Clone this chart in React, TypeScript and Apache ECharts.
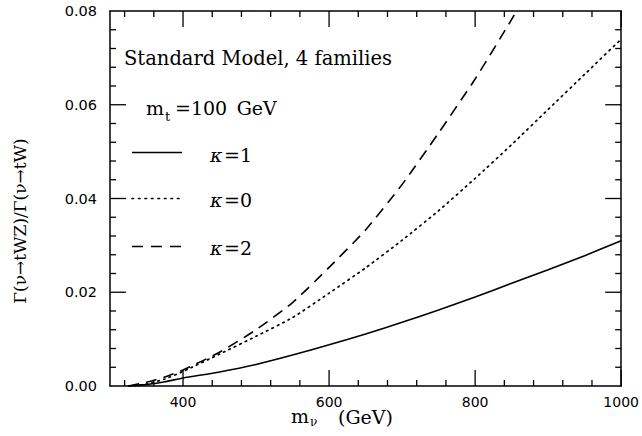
import React, { useEffect, useRef } from "react";
import * as echarts from "echarts";

// ---- data ----
const massPoints = [325, 350, 375, 400, 450, 500, 550, 600, 650, 700, 750, 800, 850, 900, 950, 1000];
const kappa1 = [0, 0.0003, 0.0009, 0.0017, 0.003, 0.0046, 0.0066, 0.0088, 0.0111, 0.0136, 0.0162, 0.019, 0.0219, 0.0248, 0.0278, 0.031];
const kappa0 = [0, 0.0004, 0.0015, 0.0031, 0.0068, 0.0106, 0.0146, 0.0198, 0.0252, 0.0311, 0.0374, 0.0443, 0.0515, 0.059, 0.0665, 0.074];
const massPointsK2 = [325, 350, 375, 400, 450, 500, 550, 600, 650, 700, 750, 800, 850, 875];
const kappa2 = [0, 0.0008, 0.0019, 0.0034, 0.0072, 0.012, 0.0178, 0.0253, 0.0333, 0.043, 0.054, 0.0655, 0.0782, 0.085];

// axis ranges and tick positions
const X_MIN = 300;
const X_MAX = 1000;
const Y_MIN = 0;
const Y_MAX = 0.08;
const xMajorTicks = [400, 600, 800, 1000];
const xMinorTicks = [320, 360, 440, 480, 520, 560, 640, 680, 720, 760, 840, 880, 920, 960];
const yMajorTicks = [0.02, 0.04, 0.06];
const yMinorTicks = [0.004, 0.008, 0.012, 0.016, 0.024, 0.028, 0.032, 0.036, 0.044, 0.048, 0.052, 0.056, 0.064, 0.068, 0.072, 0.076];

const GRID = { left: 110, right: 17, top: 11, bottom: 50 };

const SERIF = "DejaVu Serif";
const SANS = "DejaVu Sans";

function pairs(xs: number[], ys: number[]) {
  return xs.map((x, i) => [x, ys[i]]);
}

export default function App() {
  const ref = useRef<HTMLDivElement>(null);

  useEffect(() => {
    if (!ref.current) return;
    const chart = echarts.init(ref.current, undefined, { renderer: "svg" });

    const frame = () => ({ show: true, onZero: false, lineStyle: { color: "#000", width: 1.5 } });

    const xAxes = [
      {
        type: "value",
        min: X_MIN,
        max: X_MAX,
        position: "bottom",
        axisLine: frame(),
        axisTick: { show: false },
        splitLine: { show: false },
        axisLabel: {
          show: true,
          customValues: xMajorTicks,
          margin: 9,
          fontFamily: SANS,
          fontSize: 14,
          color: "#000",
          formatter: (v: number) => String(v),
        },
      },
      {
        type: "value",
        min: X_MIN,
        max: X_MAX,
        position: "top",
        axisLine: frame(),
        axisTick: { show: false },
        axisLabel: { show: false },
        splitLine: { show: false },
      },
    ];

    const yAxis = (position: string, labels: boolean) => ({
      type: "value",
      min: Y_MIN,
      max: Y_MAX,
      interval: 0.02,
      position,
      splitLine: { show: false },
      axisLine: frame(),
      axisTick: { show: false },
      minorTick: { show: false },
      axisLabel: labels
        ? { show: true, margin: 13, fontFamily: SANS, fontSize: 14.5, color: "#000", formatter: (v: number) => v.toFixed(2) }
        : { show: false },
    });

    const lineBase = {
      type: "line",
      xAxisIndex: 0,
      yAxisIndex: 0,
      showSymbol: false,
      symbol: "none",
      smooth: 0.2,
    };

    const textStyle = (extra: any) => ({ fontFamily: SERIF, fill: "#000", ...extra });

    chart.setOption({
      animation: false,
      grid: { ...GRID },
      xAxis: xAxes,
      yAxis: [yAxis("left", true), yAxis("right", false)],
      series: [
        { ...lineBase, name: "κ=1", data: pairs(massPoints, kappa1), lineStyle: { color: "#000", width: 1.6, type: "solid" } },
        { ...lineBase, name: "κ=0", data: pairs(massPoints, kappa0), lineStyle: { color: "#000", width: 1.7, type: [1.5, 4.5], cap: "round" } },
        { ...lineBase, name: "κ=2", data: pairs(massPointsK2, kappa2), lineStyle: { color: "#000", width: 1.6, type: [11, 7] } },
      ],
    });

    // map a data point to pixels through the grid; fall back to the grid's linear layout
    const W = chart.getWidth();
    const H = chart.getHeight();
    const toPx = (x: number, y: number): number[] => {
      let p: any = null;
      try {
        p = chart.convertToPixel({ gridIndex: 0 } as any, [x, y]);
      } catch (e) {
        p = null;
      }
      if (!p || !isFinite(Number(p[0])) || !isFinite(Number(p[1]))) {
        const pw = W - GRID.left - GRID.right;
        const ph = H - GRID.top - GRID.bottom;
        p = [
          GRID.left + ((x - X_MIN) / (X_MAX - X_MIN)) * pw,
          H - GRID.bottom - ((y - Y_MIN) / (Y_MAX - Y_MIN)) * ph,
        ];
      }
      return [Number(p[0]), Number(p[1])];
    };

    const [xl, yb] = toPx(X_MIN, Y_MIN);
    const [xr, yt] = toPx(X_MAX, Y_MAX);
    const seg = (x1: number, y1: number, x2: number, y2: number) => ({
      type: "line",
      z: 50,
      shape: { x1, y1, x2, y2 },
      style: { stroke: "#000", lineWidth: 1.3 },
    });
    const ticks: any[] = [];
    const addX = (vals: number[], len: number) =>
      vals.forEach((v) => {
        const x = toPx(v, Y_MIN)[0];
        ticks.push(seg(x, yb, x, yb - len), seg(x, yt, x, yt + len));
      });
    const addY = (vals: number[], len: number) =>
      vals.forEach((v) => {
        const y = toPx(X_MIN, v)[1];
        ticks.push(seg(xl, y, xl + len, y), seg(xr, y, xr - len, y));
      });
    addX(xMajorTicks, 16);
    addX(xMinorTicks, 6);
    addY(yMajorTicks, 16);
    addY(yMinorTicks, 6);

    const texts: any[] = [
      { type: "text", x: 124, y: 58, style: textStyle({ text: "Standard Model, 4 families", fontSize: 19.5, verticalAlign: "middle" }) },
      { type: "text", x: 146, y: 108, style: textStyle({ text: "m", fontSize: 19, verticalAlign: "middle" }) },
      { type: "text", x: 165, y: 116, style: textStyle({ text: "t", fontSize: 13, verticalAlign: "middle" }) },
      { type: "text", x: 175, y: 108, style: textStyle({ text: "=100\u2002GeV", fontSize: 19, verticalAlign: "middle" }) },
      { type: "line", shape: { x1: 132, y1: 152.5, x2: 182, y2: 152.5 }, style: { stroke: "#000", lineWidth: 1.6 } },
      { type: "text", x: 210, y: 155, style: textStyle({ text: "κ", fontStyle: "italic", fontSize: 19, verticalAlign: "middle" }) },
      { type: "text", x: 224, y: 155, style: textStyle({ text: "=1", fontSize: 19, verticalAlign: "middle" }) },
      { type: "line", shape: { x1: 132, y1: 198.5, x2: 180, y2: 198.5 }, style: { stroke: "#000", lineWidth: 1.7, lineDash: [1.5, 5], lineCap: "round" } },
      { type: "text", x: 210, y: 200, style: textStyle({ text: "κ", fontStyle: "italic", fontSize: 19, verticalAlign: "middle" }) },
      { type: "text", x: 224, y: 200, style: textStyle({ text: "=0", fontSize: 19, verticalAlign: "middle" }) },
      { type: "line", shape: { x1: 132, y1: 246.5, x2: 182, y2: 246.5 }, style: { stroke: "#000", lineWidth: 1.6, lineDash: [11, 8] } },
      { type: "text", x: 210, y: 248, style: textStyle({ text: "κ", fontStyle: "italic", fontSize: 19, verticalAlign: "middle" }) },
      { type: "text", x: 224, y: 248, style: textStyle({ text: "=2", fontSize: 19, verticalAlign: "middle" }) },
      {
        type: "text",
        x: 20,
        y: 221,
        rotation: Math.PI / 2,
        style: textStyle({ text: "Γ(ν→tWZ)/Γ(ν→tW)", fontSize: 17, align: "center", verticalAlign: "middle" }),
      },
      { type: "text", x: 291, y: 416, style: textStyle({ text: "m", fontSize: 19, verticalAlign: "middle" }) },
      { type: "text", x: 310, y: 422, style: textStyle({ text: "ν", fontSize: 12, verticalAlign: "middle" }) },
      { type: "text", x: 338, y: 417, style: textStyle({ text: "(GeV)", fontSize: 19, verticalAlign: "middle" }) },
    ];

    chart.setOption({ graphic: [...texts, ...ticks] });

    return () => chart.dispose();
  }, []);

  return (
    <div
      ref={ref}
      style={{ position: "fixed", left: 0, top: 0, width: 642, height: 436, background: "#fff" }}
    />
  );
}
